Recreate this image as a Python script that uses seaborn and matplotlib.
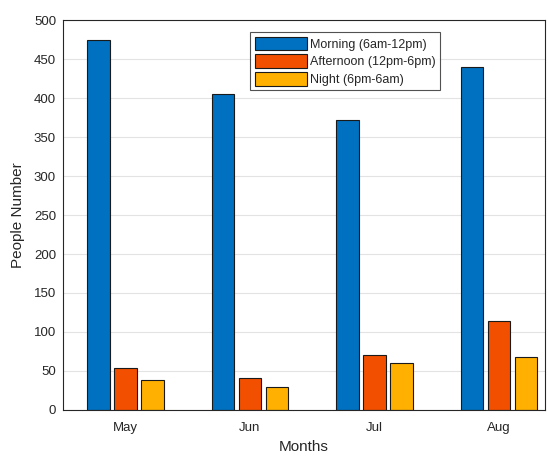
import matplotlib
matplotlib.use("Agg")
import matplotlib.pyplot as plt
import pandas as pd
import seaborn as sns

months = ["May", "Jun", "Jul", "Aug"]
series = ["Morning (6am-12pm)", "Afternoon (12pm-6pm)", "Night (6pm-6am)"]
morning = [474, 405, 372, 440]
afternoon = [54, 41, 70, 114]
night = [38, 29, 60, 68]

df = pd.DataFrame({
    "Months": months * 3,
    "Period": [s for s in series for _ in months],
    "People": morning + afternoon + night,
})

sns.set_theme(style="white")
plt.rcParams["font.family"] = ["Liberation Sans", "DejaVu Sans"]

fig = plt.figure(figsize=(5.48, 4.57), dpi=100)
ax = fig.add_axes([0.115, 0.103, 0.88, 0.853])

palette = ["#0070C0", "#F25000", "#FFB000"]
sns.barplot(data=df, x="Months", y="People", hue="Period", order=months,
            hue_order=series, palette=palette, width=0.65, gap=0.17,
            edgecolor="#1a1a1a", linewidth=0.8, saturation=1, ax=ax)

ax.set_ylim(0, 500)
ax.set_xlim(-0.5, 3.37)
ax.set_yticks(range(0, 501, 50))
ax.yaxis.grid(True, color="#e3e3e3", linewidth=0.8)
ax.set_axisbelow(True)
for sp in ax.spines.values():
    sp.set_color("#262626")
    sp.set_linewidth(0.8)
ax.tick_params(direction="in", length=3, width=0.6, colors="#262626",
               labelsize=9.5, top=False, right=False)
ax.tick_params(axis="x", pad=9)
ax.tick_params(axis="y", pad=5)
ax.set_xlabel("Months", fontsize=11, color="#262626", labelpad=4)
ax.set_ylabel("People Number", fontsize=11, color="#262626", labelpad=6)

leg = ax.legend(loc="upper left", bbox_to_anchor=(0.388, 0.969), fontsize=9,
                frameon=True, fancybox=False, edgecolor="#262626",
                handlelength=4.2, handleheight=1.3, handletextpad=0.25,
                labelspacing=0.3, borderpad=0.35, borderaxespad=0)
leg.get_frame().set_linewidth(0.8)

fig.savefig("out.png", dpi=100)
